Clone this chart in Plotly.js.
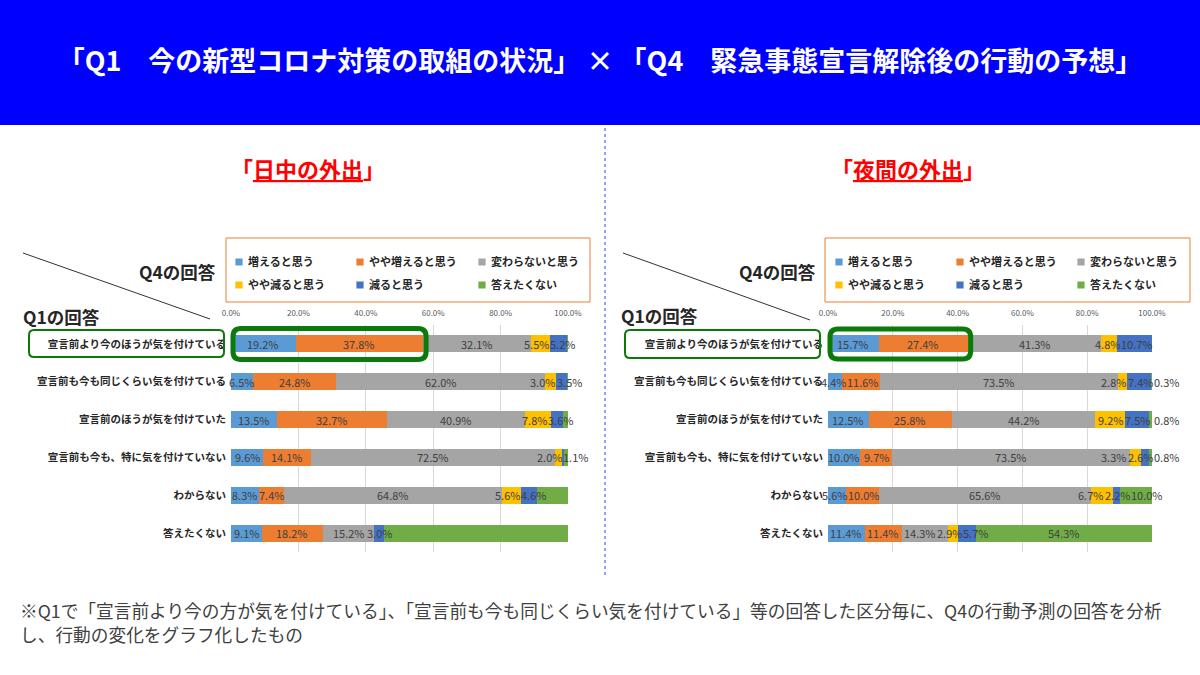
<!DOCTYPE html>
<html><head><meta charset="utf-8">
<script src="https://cdn.plot.ly/plotly-3.0.1.min.js"></script>
<style>html,body{margin:0;padding:0;background:#fff}#chart{width:1200px;height:675px}</style>
</head><body><div id="chart"></div>
<script>
// ---------- data ----------
const categories = [
  '宣言前より今のほうが気を付けている',
  '宣言前も今も同じくらい気を付けている',
  '宣言前のほうが気を付けていた',
  '宣言前も今も、特に気を付けていない',
  'わからない',
  '答えたくない'
];
const seriesNames = ['増えると思う','やや増えると思う','変わらないと思う','やや減ると思う','減ると思う','答えたくない'];
const tickValues = [0, 20, 40, 60, 80, 100];
const tickLabels = ['0.0%','20.0%','40.0%','60.0%','80.0%','100.0%'];

// 日中の外出
const dayIncrease         = [19.2,  6.5, 13.5,  9.6,  8.3,  9.1];
const daySlightIncrease   = [37.8, 24.8, 32.7, 14.1,  7.4, 18.2];
const dayNoChange         = [32.1, 62.0, 40.9, 72.5, 64.8, 15.2];
const daySlightDecrease   = [ 5.5,  3.0,  7.8,  2.0,  5.6,  0.0];
const dayDecrease         = [ 5.2,  3.5,  3.6,  0.7,  4.6,  3.0];
const dayNoAnswer         = [ 0.2,  0.2,  1.5,  1.1,  9.3, 54.5];

// 夜間の外出
const nightIncrease       = [15.7,  4.4, 12.5, 10.0,  5.6, 11.4];
const nightSlightIncrease = [27.4, 11.6, 25.8,  9.7, 10.0, 11.4];
const nightNoChange       = [41.3, 73.5, 44.2, 73.5, 65.6, 14.3];
const nightSlightDecrease = [ 4.8,  2.8,  9.2,  3.3,  6.7,  2.9];
const nightDecrease       = [10.7,  7.4,  7.5,  2.6,  2.2,  5.7];
const nightNoAnswer       = [ 0.2,  0.3,  0.8,  0.8, 10.0, 54.3];

// labels not shown in the original (series index -> row indices)
const dayHiddenLabels = {3: [5], 4: [3], 5: [0, 1, 2, 4, 5]};
const nightHiddenLabels = {};
// rows whose last-segment label sits just after the bar end
const dayOutsideRows = [];
const nightOutsideRows = [0, 1, 2, 3];

const footnoteLines = [
  '※Q1で「宣言前より今の方が気を付けている」、「宣言前も今も同じくらい気を付けている」等の回答した区分毎に、Q4の行動予測の回答を分析',
  'し、行動の変化をグラフ化したもの'
];

// ---------- layout helpers ----------
const W = 1200, H = 675;
const colors = ['#5B9BD5','#ED7D31','#A5A5A5','#FFC000','#4472C4','#70AD47'];
const FONT = '"Noto Sans CJK JP", "Noto Sans", sans-serif';
const LABEL_SIZE = 11;
const px = x => x / W;
const py = y => 1 - y / H;
const plotTop = 325, plotBottom = 552;
const leftDom = [231, 568], rightDom = [828, 1152];
const legendColsLeft = [248, 369, 491], legendColsRight = [848, 969, 1090];
const legendRows = [262, 285];

function roundRect(x0, y0, x1, y1, r) {
  const P = (x, y) => px(x) + ',' + py(y);
  return 'M' + P(x0 + r, y0) + ' L' + P(x1 - r, y0) + ' Q' + P(x1, y0) + ' ' + P(x1, y0 + r) +
    ' L' + P(x1, y1 - r) + ' Q' + P(x1, y1) + ' ' + P(x1 - r, y1) +
    ' L' + P(x0 + r, y1) + ' Q' + P(x0, y1) + ' ' + P(x0, y1 - r) +
    ' L' + P(x0, y0 + r) + ' Q' + P(x0, y0) + ' ' + P(x0 + r, y0) + ' Z';
}
const valPix = (v, dom) => dom[0] + v / 100 * (dom[1] - dom[0]);
const rowPix = i => plotTop + (i + 0.5) * (plotBottom - plotTop) / categories.length;

const measureCtx = document.createElement('canvas').getContext('2d');
measureCtx.font = LABEL_SIZE + 'px ' + FONT;
const textWidth = t => measureCtx.measureText(t).width || t.length * 6.5;

const legendLayouts = {};
let legendCount = 0;
function legendAt(xText, yPix) {
  legendCount += 1;
  const key = legendCount === 1 ? 'legend' : 'legend' + legendCount;
  legendLayouts[key] = {
    x: px(xText - 40), y: py(yPix), xanchor: 'left', yanchor: 'middle', orientation: 'h',
    bgcolor: 'rgba(0,0,0,0)', borderwidth: 0,
    font: {family: FONT, size: 11, color: '#262626', weight: 'bold'},
    itemclick: false, itemdoubleclick: false
  };
  return key;
}

function makeTraces(seriesList, xa, ya, cols) {
  return seriesList.map((vals, s) => ({
    type: 'bar', orientation: 'h', name: seriesNames[s],
    x: vals, y: categories, xaxis: xa, yaxis: ya,
    marker: {color: colors[s], line: {width: 0}},
    cliponaxis: false,
    legend: legendAt(cols[s % 3], legendRows[Math.floor(s / 3)]),
    hoverinfo: 'name+x'
  }));
}

// data labels: centred on each segment, pushed apart (like the original) when they collide
function dataLabels(seriesList, xa, ya, dom, hidden, outsideRows) {
  const out = [];
  const last = seriesList.length - 1;
  categories.forEach((cat, i) => {
    let cum = 0;
    const items = [];
    seriesList.forEach((vals, s) => {
      const v = vals[i];
      const start = cum;
      cum += v;
      if (hidden[s] && hidden[s].includes(i)) return;
      const text = v.toFixed(1) + '%';
      const w = textWidth(text);
      const outside = (s === last && outsideRows.includes(i));
      const ref = outside ? start + v : start + v / 2;
      const want = outside ? valPix(ref, dom) + w / 2 + 2 : valPix(ref, dom);
      items.push({text, w, ref, want, weight: outside ? 100 : 1});
    });
    const gap = 1;
    let blocks = items.map(it => ({items: [it]}));
    const layoutBlock = b => {
      let off = 0, sw = 0, sum = 0;
      b.items.forEach(it => { it.off = off + it.w / 2; off += it.w + gap; sw += it.weight; sum += it.weight * (it.want - it.off); });
      b.width = off - gap;
      b.left = sum / sw;
    };
    blocks.forEach(layoutBlock);
    let merged = true;
    while (merged) {
      merged = false;
      for (let k = 0; k < blocks.length - 1; k++) {
        if (blocks[k].left + blocks[k].width + gap > blocks[k + 1].left) {
          const nb = {items: blocks[k].items.concat(blocks[k + 1].items)};
          layoutBlock(nb);
          blocks.splice(k, 2, nb);
          merged = true;
          break;
        }
      }
    }
    blocks.forEach(b => b.items.forEach(it => {
      const finalCenter = b.left + it.off;
      out.push({
        text: it.text, xref: xa, yref: ya, x: it.ref, y: cat, showarrow: false,
        xanchor: 'center', yanchor: 'middle', xshift: finalCenter - valPix(it.ref, dom),
        borderpad: 0, font: {family: FONT, size: LABEL_SIZE, color: '#404040'}
      });
    }));
  });
  return out;
}

const daySeries = [dayIncrease, daySlightIncrease, dayNoChange, daySlightDecrease, dayDecrease, dayNoAnswer];
const nightSeries = [nightIncrease, nightSlightIncrease, nightNoChange, nightSlightDecrease, nightDecrease, nightNoAnswer];
const dayTraces = makeTraces(daySeries, 'x', 'y', legendColsLeft);
const nightTraces = makeTraces(nightSeries, 'x2', 'y2', legendColsRight);

function xAxis(dom, anchor) {
  return {
    domain: [px(dom[0]), px(dom[1])], range: [0, 100], side: 'top', anchor: anchor,
    tickmode: 'array', tickvals: tickValues, ticktext: tickLabels,
    tickfont: {family: FONT, size: 8, color: '#595959'}, ticklabelstandoff: 6,
    showgrid: true, gridcolor: '#d9d9d9', gridwidth: 1, zeroline: false, showline: false,
    ticks: '', fixedrange: true
  };
}
function yAxis(anchor) {
  return {
    domain: [py(plotBottom), py(plotTop)], type: 'category', anchor: anchor,
    categoryorder: 'array', categoryarray: categories, autorange: 'reversed',
    tickfont: {family: FONT, size: 10.5, color: '#262626', weight: 'bold'},
    ticks: '', ticklabelstandoff: 4, showgrid: false, zeroline: false, showline: false,
    fixedrange: true
  };
}

const shapes = [
  {type: 'rect', xref: 'paper', yref: 'paper', x0: 0, x1: 1, y0: py(125), y1: 1,
   fillcolor: '#0000FF', line: {width: 0}, layer: 'below'},
  {type: 'line', xref: 'paper', yref: 'paper', x0: px(605), x1: px(605), y0: py(128), y1: py(578),
   line: {color: '#3344ee', width: 1, dash: 'dot'}},
  {type: 'line', xref: 'paper', yref: 'paper', x0: px(23), y0: py(253), x1: px(210), y1: py(319),
   line: {color: '#333', width: 1}},
  {type: 'line', xref: 'paper', yref: 'paper', x0: px(623), y0: py(253), x1: px(810), y1: py(320),
   line: {color: '#333', width: 1}},
  {type: 'rect', xref: 'paper', yref: 'paper', x0: px(226), x1: px(590), y0: py(302), y1: py(238),
   line: {color: '#ED7D31', width: 1}},
  {type: 'rect', xref: 'paper', yref: 'paper', x0: px(825), x1: px(1190), y0: py(302), y1: py(238),
   line: {color: '#ED7D31', width: 1}},
  {type: 'path', xref: 'paper', yref: 'paper', path: roundRect(29, 330, 224, 357, 5),
   line: {color: '#0A7A0A', width: 2}},
  {type: 'path', xref: 'paper', yref: 'paper', path: roundRect(625, 330, 820, 358, 5),
   line: {color: '#0A7A0A', width: 2}},
  {type: 'path', xref: 'paper', yref: 'paper',
   path: roundRect(valPix(0, leftDom) + 2, rowPix(0) - 15.5, valPix(dayIncrease[0] + daySlightIncrease[0], leftDom) + 3, rowPix(0) + 15.5, 8),
   line: {color: '#0A7A0A', width: 5}},
  {type: 'path', xref: 'paper', yref: 'paper',
   path: roundRect(valPix(0, rightDom) + 2, rowPix(0) - 15, valPix(nightIncrease[0] + nightSlightIncrease[0], rightDom) + 3, rowPix(0) + 15, 8),
   line: {color: '#0A7A0A', width: 5}}
];

const ann = (text, x, y, opts) => Object.assign({
  text: text, xref: 'paper', yref: 'paper', x: px(x), y: py(y), showarrow: false,
  xanchor: 'center', yanchor: 'middle', font: {family: FONT, size: 12, color: '#262626'}
}, opts || {});

const annotations = [
  ann('「<u>日中の外出</u>」', 308, 168, {font: {family: FONT, size: 22, color: '#FF0000', weight: 'bold'}}),
  ann('「<u>夜間の外出</u>」', 908, 168, {font: {family: FONT, size: 22, color: '#FF0000', weight: 'bold'}}),
  ann('Q4の回答', 218, 271, {xanchor: 'right', font: {family: FONT, size: 17.5, color: '#262626', weight: 'bold'}}),
  ann('Q1の回答', 21, 316, {xanchor: 'left', font: {family: FONT, size: 17.5, color: '#262626', weight: 'bold'}}),
  ann('Q4の回答', 818, 271, {xanchor: 'right', font: {family: FONT, size: 17.5, color: '#262626', weight: 'bold'}}),
  ann('Q1の回答', 619, 315, {xanchor: 'left', font: {family: FONT, size: 17.5, color: '#262626', weight: 'bold'}})
].concat(
  footnoteLines.map((t, k) => ann(t, 19, 610 + k * 24, {xanchor: 'left', align: 'left', borderpad: 0,
    font: {family: FONT, size: 17.7, color: '#404040'}})),
  dataLabels(daySeries, 'x', 'y', leftDom, dayHiddenLabels, dayOutsideRows),
  dataLabels(nightSeries, 'x2', 'y2', rightDom, nightHiddenLabels, nightOutsideRows)
);

const layout = Object.assign({
  width: W, height: H, margin: {l: 0, r: 0, t: 0, b: 0},
  paper_bgcolor: '#ffffff', plot_bgcolor: 'rgba(0,0,0,0)',
  barmode: 'stack', bargap: 0.55, showlegend: true,
  title: {text: '「Q1　今の新型コロナ対策の取組の状況」 × 「Q4　緊急事態宣言解除後の行動の予想」',
          x: 0.5, xanchor: 'center', y: py(62), yanchor: 'middle',
          font: {family: FONT, size: 27, color: '#ffffff', weight: 'bold'}},
  xaxis: xAxis(leftDom, 'y'), yaxis: yAxis('x'),
  xaxis2: xAxis(rightDom, 'y2'), yaxis2: yAxis('x2'),
  shapes: shapes, annotations: annotations,
  font: {family: FONT}
}, legendLayouts);

Plotly.newPlot('chart', dayTraces.concat(nightTraces), layout, {displayModeBar: false, staticPlot: true}).then(() => {
  document.querySelectorAll('.legendpoints path').forEach(p => p.setAttribute('transform', 'translate(31,0) scale(0.6)'));
});
</script>
</body></html>
